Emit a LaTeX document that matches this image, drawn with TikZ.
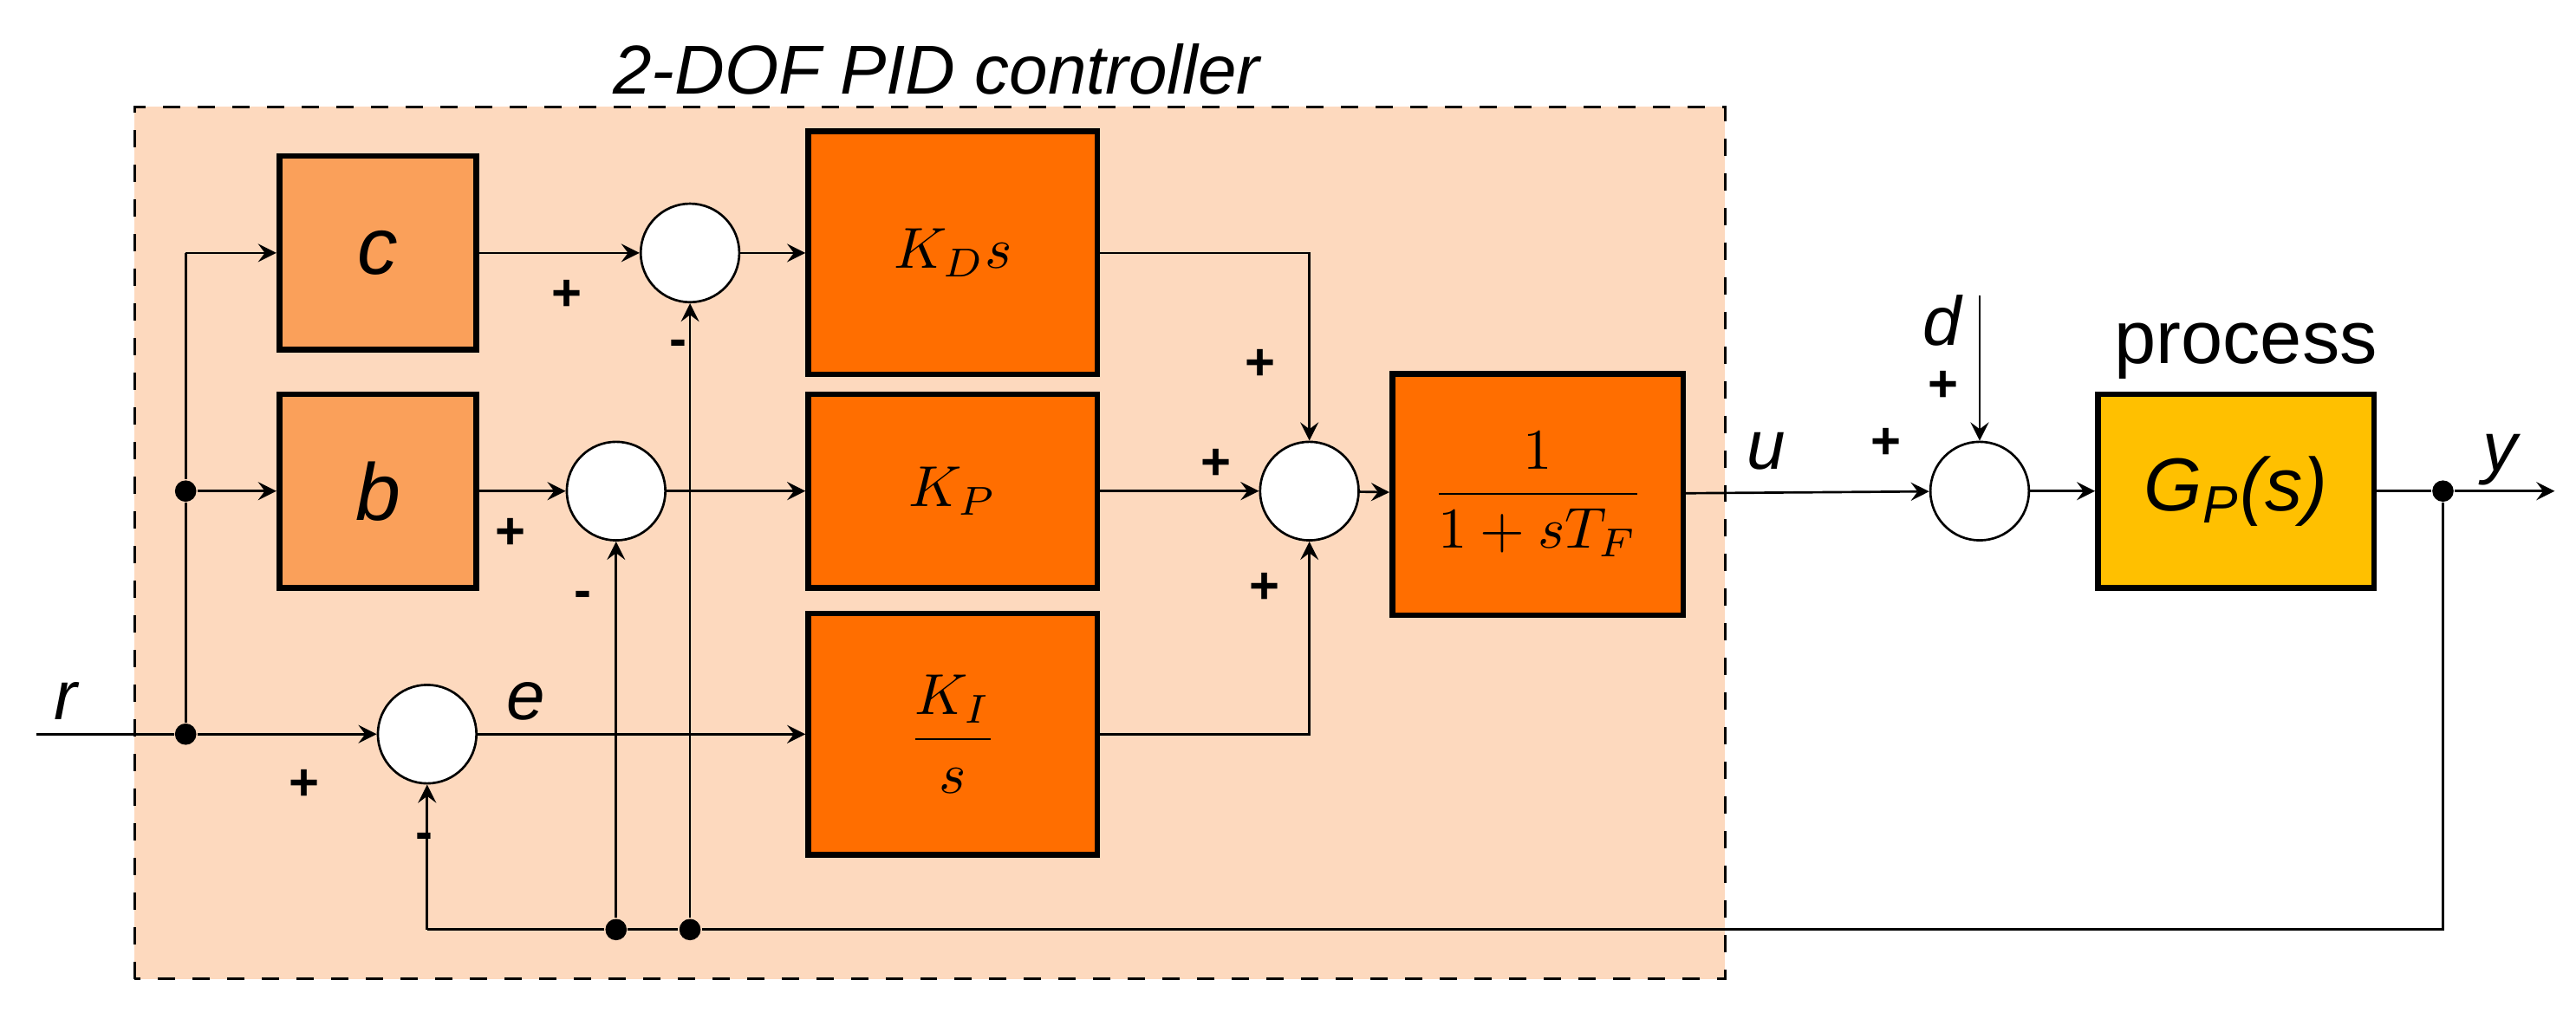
\documentclass[tikz,border=0pt]{standalone}
\usepackage{fontspec}
\setmainfont{Liberation Sans}
\usepackage{amsmath}
\usetikzlibrary{arrows}
\definecolor{bgpeach}{RGB}{253,217,190}
\definecolor{lightor}{RGB}{250,160,90}
\definecolor{darkor}{RGB}{255,110,0}
\definecolor{procyel}{RGB}{255,192,0}
\tikzstyle{arrow} = [->,>=stealth]
\tikzstyle{blk} = [draw,line width=1pt,inner sep=0pt]
\tikzstyle{sumc} = [draw,circle,fill=white,minimum size=0.6cm,inner sep=0pt]
\tikzstyle{dot} = [circle,fill=black,minimum size=0.13cm,inner sep=0pt]
\tikzstyle{lbl} = [font=\fontsize{12}{14}\selectfont\itshape]
\tikzstyle{sgn} = [font=\fontsize{9}{10}\selectfont\bfseries]

\begin{document}
\begin{tikzpicture}[scale=1]
        \useasboundingbox (0,0) rectangle (15.68,6.20);
        % controller area
        \draw[dashed,fill=bgpeach] (0.82,0.24) rectangle (10.50,5.55);
        \node[lbl] (title) at (5.70,5.78) {2-DOF PID controller};
        % blocks
        \draw (2.30,4.66) node[blk,fill=lightor,minimum width=1.2cm,minimum height=1.18cm] (c) {\fontsize{14}{16}\selectfont\itshape c};
        \draw (2.30,3.21) node[blk,fill=lightor,minimum width=1.2cm,minimum height=1.18cm] (b) {\fontsize{14}{16}\selectfont\itshape b};
        \draw (5.80,4.66) node[blk,fill=darkor,minimum width=1.76cm,minimum height=1.48cm] (kd) {$K_D s$};
        \draw (5.80,3.21) node[blk,fill=darkor,minimum width=1.76cm,minimum height=1.18cm] (kp) {$K_P$};
        \draw (5.80,1.73) node[blk,fill=darkor,minimum width=1.76cm,minimum height=1.47cm] (ki) {$\dfrac{K_I}{s}$};
        \draw (9.36,3.19) node[blk,fill=darkor,minimum width=1.77cm,minimum height=1.47cm] (tf) {$\dfrac{1}{1+sT_F}$};
        \draw (13.61,3.21) node[blk,fill=procyel,minimum width=1.68cm,minimum height=1.18cm] (gp) {\fontsize{13}{15}\selectfont\itshape G\textsubscript{P}(s)};
        \node[font=\fontsize{13}{15}\selectfont] (proc) at (13.67,4.06) {process};
        % sums
        \node[sumc] (s1) at (4.20,4.66) {};
        \node[sumc] (s2) at (3.75,3.21) {};
        \node[sumc] (s3) at (2.60,1.73) {};
        \node[sumc] (s4) at (7.97,3.21) {};
        \node[sumc] (s5) at (12.05,3.21) {};
        % points
        \coordinate (rin) at (0.22,1.73);
        \node[dot] (p1) at (1.13,1.73) {};
        \node[dot] (p2) at (1.13,3.21) {};
        \coordinate (p3) at (1.13,4.66);
        \node[dot] (py) at (14.87,3.21) {};
        \coordinate (yout) at (15.55,3.21);
        \coordinate (f1) at (14.87,0.54);
        \coordinate (f2) at (2.60,0.54);
        \node[dot] (f3) at (3.75,0.54) {};
        \node[dot] (f4) at (4.20,0.54) {};
        \coordinate (din) at (12.05,4.40);
        % edges
        \draw (rin) -- (p1);
        \draw[arrow] (p1) -- (s3);
        \draw (p1) -- (p2) -- (p3);
        \draw[arrow] (p3) -- (c);
        \draw[arrow] (p2) -- (b);
        \draw[arrow] (c) -- (s1);
        \draw[arrow] (b) -- (s2);
        \draw[arrow] (s1) -- (kd);
        \draw[arrow] (s2) -- (kp);
        \draw[arrow] (s3) -- (ki);
        \draw[arrow] (kd) -| (s4);
        \draw[arrow] (kp) -- (s4);
        \draw[arrow] (ki) -| (s4);
        \draw[arrow] (s4) -- (tf);
        \draw[arrow] (tf) -- (s5);
        \draw[arrow] (din) -- (s5);
        \draw[arrow] (s5) -- (gp);
        \draw (gp) -- (py);
        \draw[arrow] (py) -- (yout);
        \draw (py) -- (f1) -- (f4) -- (f3) -- (f2);
        \draw[arrow] (f2) -- (s3);
        \draw[arrow] (f3) -- (s2);
        \draw[arrow] (f4) -- (s1);
        % labels
        \node[lbl] at (0.40,1.93) {r};
        \node[lbl] at (3.20,1.93) {e};
        \node[lbl] at (10.75,3.45) {u};
        \node[lbl] at (11.82,4.25) {d};
        \node[lbl] at (15.22,3.40) {y};
        \node[sgn] at (3.45,4.40) {+};
        \node[sgn] at (4.13,4.08) {-};
        \node[sgn] at (3.11,2.95) {+};
        \node[sgn] at (3.55,2.55) {-};
        \node[sgn] at (1.85,1.42) {+};
        \node[sgn] at (2.58,1.08) {-};
        \node[sgn] at (7.67,3.98) {+};
        \node[sgn] at (7.40,3.37) {+};
        \node[sgn] at (7.70,2.62) {+};
        \node[sgn] at (11.48,3.50) {+};
        \node[sgn] at (11.83,3.85) {+};
    \end{tikzpicture}
\end{document}
